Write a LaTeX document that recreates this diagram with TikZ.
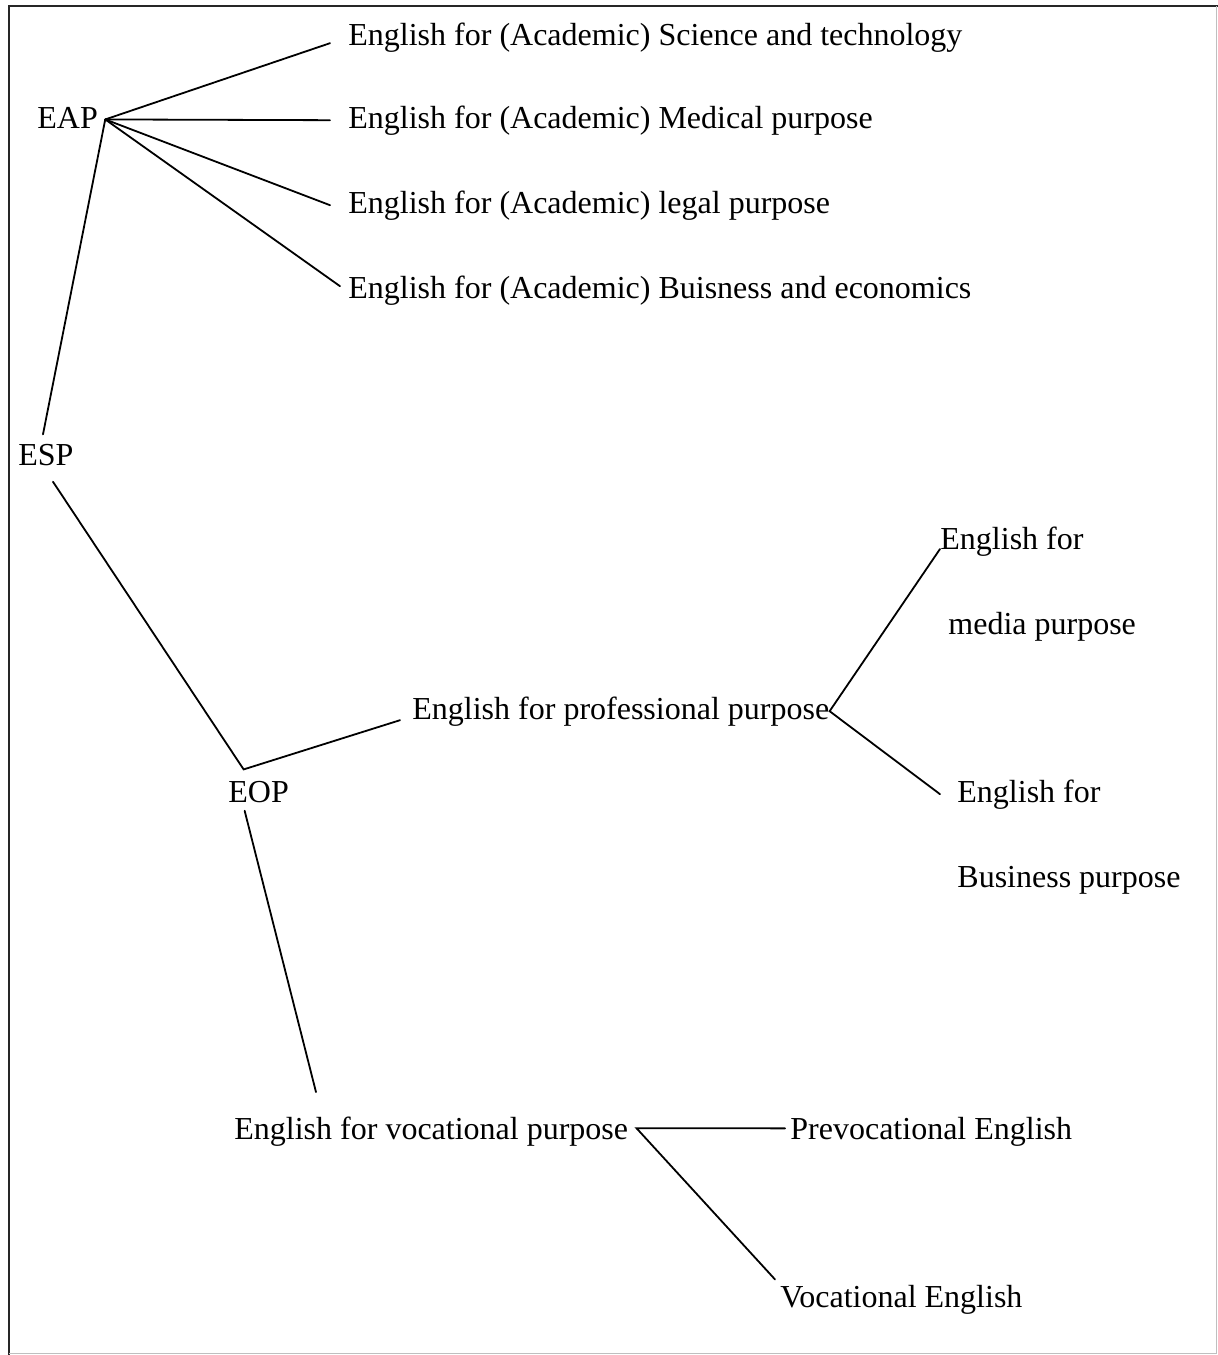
\documentclass[tikz,border=0pt]{standalone}
\usepackage{fontspec}
\setmainfont{Liberation Serif}
\usepackage{tikz}
\def\dline{\draw[line width=0.9pt,line cap=round]}
\def\lbl{\node[txt,anchor=base west]}

\begin{document}
\begin{tikzpicture}[x=0.5pt,y=-0.5pt,
                txt/.style={inner sep=0pt,font=\fontsize{16}{19}\selectfont}]
                \useasboundingbox (0,0) rectangle (1218,1355);
                \draw[black!85,line width=1.2pt] (9,1355) -- (9,6) -- (1218,6);
                \draw[black!25,line width=0.6pt] (9,1353.5) -- (1216.5,1353.5) -- (1216.5,6);
                \lbl (eap) at (37,128) {EAP};
                \lbl (esp) at (18,465) {ESP};
                \lbl (eop) at (228,802) {EOP};
                \lbl (sci) at (348,45) {English for (Academic) Science and technology};
                \lbl (med) at (348,128) {English for (Academic) Medical purpose};
                \lbl (leg) at (348,213) {English for (Academic) legal purpose};
                \lbl (bus) at (348,298) {English for (Academic) Buisness and economics};
                \lbl (pro) at (412,719) {English for professional purpose};
                \lbl (mdA) at (940,549) {English for};
                \lbl (mdB) at (948,634) {media purpose};
                \lbl (bsA) at (957,802) {English for};
                \lbl (bsB) at (957,887) {Business purpose};
                \lbl (voc) at (234,1139) {English for vocational purpose};
                \lbl (pre) at (790,1139) {Prevocational English};
                \lbl (vce) at (780,1307) {Vocational English};
                \coordinate (eapj) at ([shift={(7,2)}]eap.east);
                \coordinate (eopj) at ([shift={(-15,-11)}]eop.north);
                \coordinate (vocj) at ([shift={(8,-3)}]voc.east);
                \dline (eapj) -- ([shift={(-18,6)}]sci.west);
                \dline (eapj) -- ([shift={(-18,0)}]med.west);
                \dline (eapj) -- ([shift={(-18,0)}]leg.west);
                \dline (eapj) -- ([shift={(-8,-4)}]bus.west);
                \dline (eapj) -- ([shift={(-3,-9)}]esp.north);
                \dline ([shift={(7,16)}]esp.south) -- (eopj) -- ([shift={(-12,9)}]pro.west);
                \dline ([shift={(-14,8)}]eop.south) -- ([shift={(82,-24)}]voc.north west);
                \dline (mdA.base west) -- (pro.east) -- ([shift={(-17,0)}]bsA.west);
                \dline ([shift={(-5,-3)}]pre.west) -- (vocj) -- ([shift={(-5,-5)}]vce.north west);
            \end{tikzpicture}
\end{document}
